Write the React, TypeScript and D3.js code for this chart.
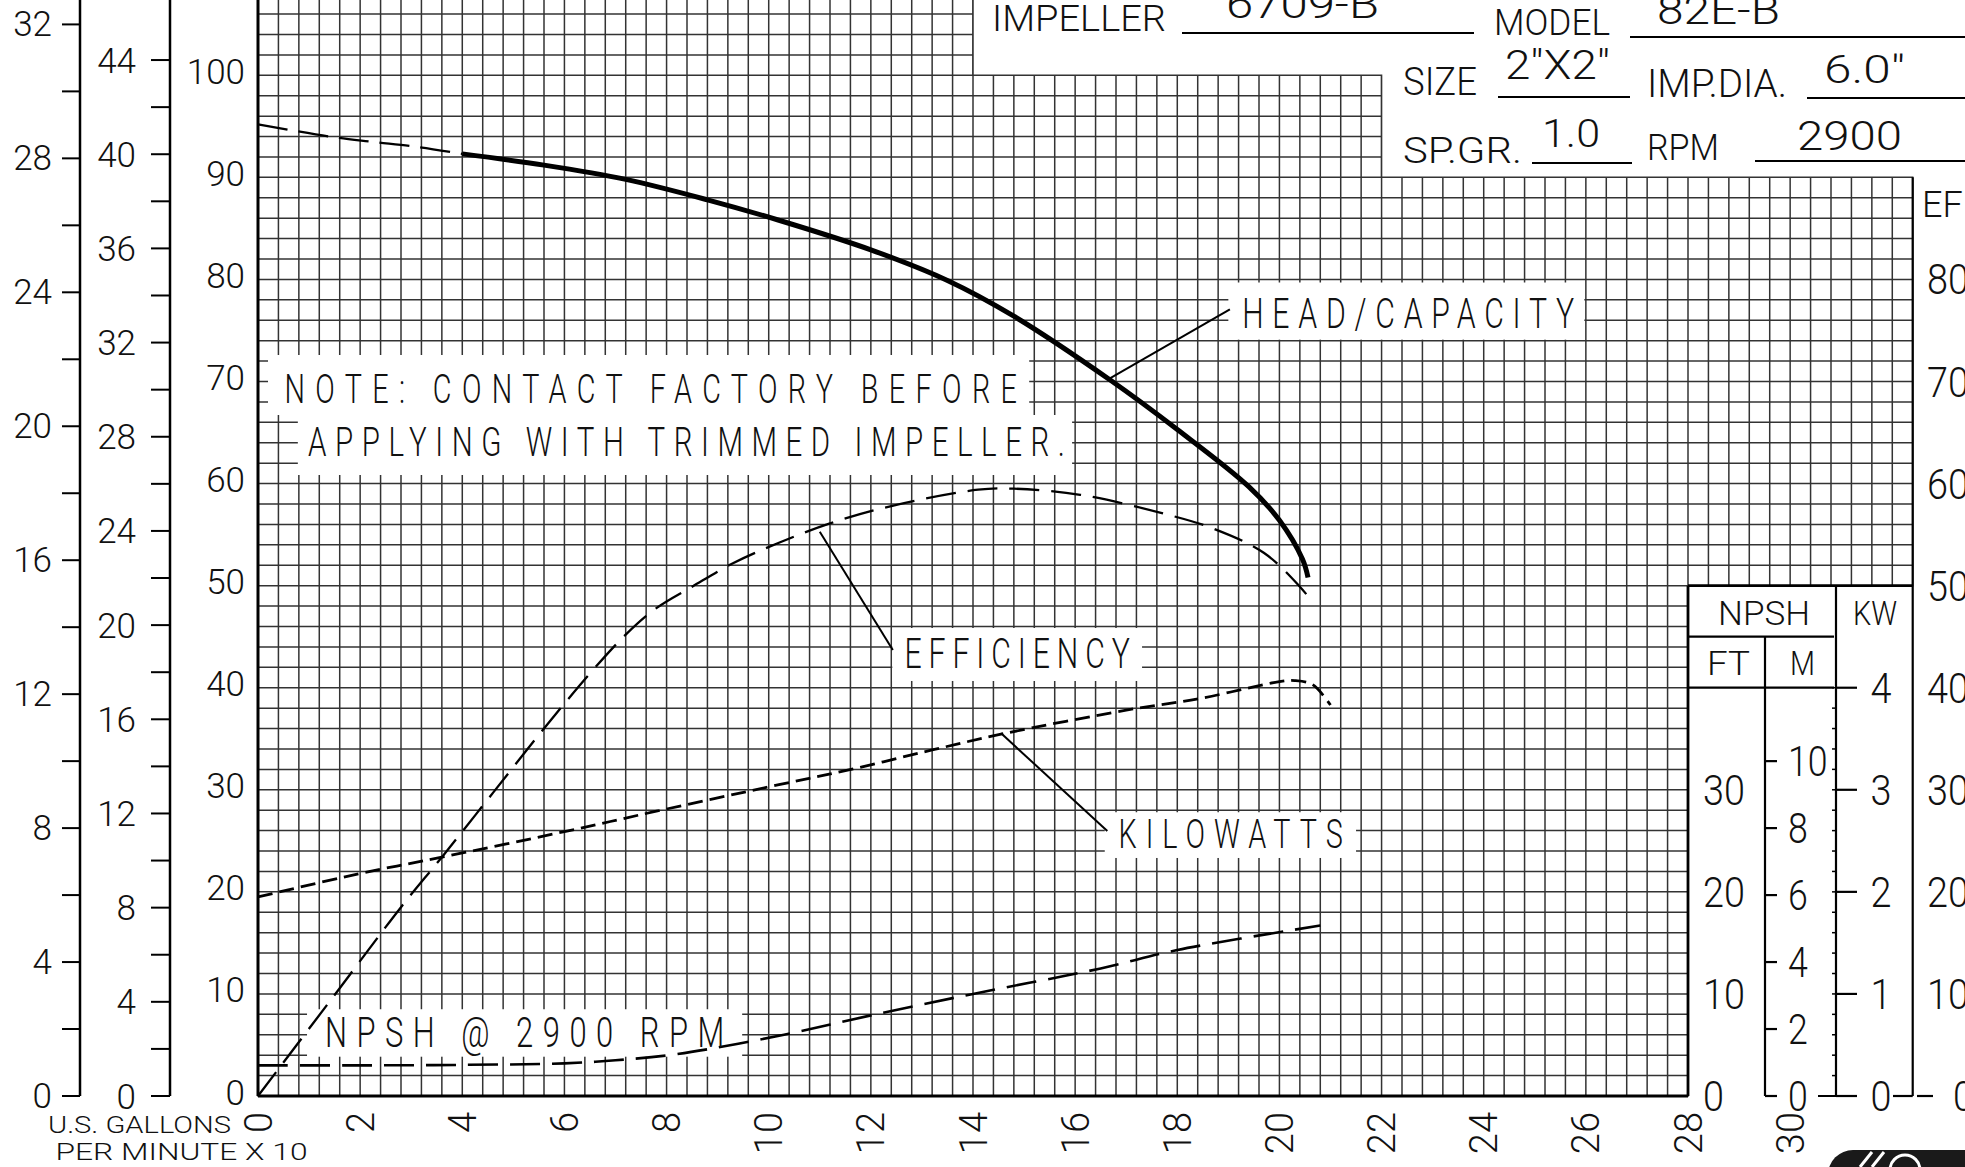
import React from 'react';
import * as d3 from 'd3';

const W = 1965;
const H = 1167;
const FONT = "Roboto, 'DejaVu Sans', sans-serif";
const INK = '#111';

// ---------------- data ----------------
// capacity in U.S. GPM x 10, head in feet
const headDashedQ = [0, 1.4, 2.2, 3.1, 4.0];
const headDashedFt = [95.2, 94.0, 93.5, 93.0, 92.3];
const headQ = [4.0, 5.6, 7.2, 8.8, 10.2, 12.0, 13.5, 14.8, 16.7, 18.0, 19.4, 20.0, 20.45, 20.56];
const headFt = [92.3, 91.2, 89.8, 87.8, 85.8, 82.9, 79.9, 76.4, 70.1, 65.3, 59.7, 56.4, 52.6, 50.8];

const effQ = [0, 1.5, 2.8, 3.6, 4.6, 5.6, 6.5, 7.2, 7.8, 8.5, 9.3, 10.2, 11.2, 12.4, 14.1, 14.8, 16.1, 17.7, 18.7, 19.7, 20.4, 20.6];
const effPct = [0, 9.9, 18.5, 23.4, 29.7, 36.0, 41.4, 45.2, 47.8, 49.9, 52.2, 54.2, 56.1, 57.8, 59.4, 59.5, 58.9, 57.1, 55.6, 53.2, 49.9, 48.7];

const kwQ = [0, 2.0, 3.6, 6.0, 7.8, 10.2, 11.7, 13.2, 14.6, 17.0, 18.5, 20.0, 20.3, 20.65, 21.0];
const kwVal = [1.95, 2.18, 2.34, 2.59, 2.79, 3.05, 3.21, 3.39, 3.55, 3.78, 3.90, 4.06, 4.07, 4.03, 3.83];

const npshQ = [0, 2, 4, 6.0, 7.0, 8.2, 10.3, 12.0, 14.0, 16.5, 18.0, 20.8];
const npshFt = [3.0, 3.0, 3.05, 3.2, 3.5, 4.1, 6.0, 7.9, 10.0, 12.5, 14.3, 16.7];

// tick values
const capacityTicks = d3.range(0, 31, 2);
const headTicks = d3.range(0, 101, 10);
const psiTicks = d3.range(0, 45, 4);
const psiAllTicks = d3.range(0, 45, 2);
const meterTicks = d3.range(0, 33, 4);
const meterAllTicks = d3.range(0, 33, 2);
const npshFtTicks = [0, 10, 20, 30];
const npshMTicks = [0, 2, 4, 6, 8, 10];
const kwTicks = [0, 1, 2, 3, 4];
const kwMinorTicks = d3.range(0, 21).map((i) => i * 0.2);
const effTicks = d3.range(0, 81, 10);

// header text
const headerTexts = ['IMPELLER', '6709-B', 'MODEL', '82E-B', 'SIZE', '2"X2"', 'IMP.DIA.', '6.0"', 'SP.GR.', '1.0', 'RPM', '2900'];

// unit conversions
const FT_PER_PSI = 2.3067;
const FT_PER_M = 3.2808;
const FT_PER_KW = 10;

// ---------------- scales ----------------
const x = d3.scaleLinear().domain([0, 28]).range([258, 1688]);
const yFt = d3.scaleLinear().domain([0, 100]).range([1096, 75.3]);
const yPsi = d3.scaleLinear().domain([0, 44]).range([yFt(0), yFt(44 * FT_PER_PSI)]);
const yM = d3.scaleLinear().domain([0, 32]).range([yFt(0), yFt(32 * FT_PER_M)]);
const yKw = d3.scaleLinear().domain([0, 4]).range([yFt(0), yFt(4 * FT_PER_KW)]);

// ---------------- layout ----------------
const M_AXIS_X = 80;
const PSI_AXIS_X = 170;
const NPSH_DIV_X = 1765;
const KW_AXIS_X = 1836;
const EF_AXIS_X = x(32.4);

const gridOutline: [number, number][] = [
  [0, 107.6], [14, 107.6], [14, 100], [22, 100], [22, 90], [32.4, 90], [32.4, 50], [28, 50], [28, 0], [0, 0],
];
const hGrid = d3.range(0, 54).map((i) => i * 2);
const vGrid = d3.range(0, 82).map((i) => +(i * 0.4).toFixed(1));

type Box = { q0: number; q1: number; v0: number; v1: number };
const labelBoxes: Box[] = [
  { q0: 19.0, q1: 25.97, v0: 74.1, v1: 79.7 },
  { q0: 12.42, q1: 17.31, v0: 40.66, v1: 45.85 },
  { q0: 16.58, q1: 21.5, v0: 23.32, v1: 27.8 },
  { q0: 0.96, q1: 9.48, v0: 3.85, v1: 8.5 },
];
const notePoly: [number, number][] = [
  [0.196, 72.6], [15.1, 72.6], [15.1, 66.72], [15.94, 66.72], [15.94, 60.84], [0.78, 60.84], [0.78, 66.72], [0.196, 66.72],
];

type Ann = { s: string; q0: number; q1: number; v: number; size: number };
const annotations: Ann[] = [
  { s: 'HEAD/CAPACITY', q0: 19.27, q1: 25.77, v: 75.24, size: 42 },
  { s: 'EFFICIENCY', q0: 12.66, q1: 17.07, v: 41.9, size: 42 },
  { s: 'KILOWATTS', q0: 16.85, q1: 21.24, v: 24.27, size: 40 },
  { s: 'NPSH @ 2900 RPM', q0: 1.31, q1: 9.13, v: 4.8, size: 43 },
  { s: 'NOTE: CONTACT FACTORY BEFORE', q0: 0.52, q1: 14.86, v: 67.87, size: 40 },
  { s: 'APPLYING WITH TRIMMED IMPELLER.', q0: 0.98, q1: 15.8, v: 62.7, size: 41 },
];
const leaders: [number, number, number, number][] = [
  [16.68, 70.3, 19.03, 77.07],
  [11.0, 55.29, 12.43, 43.7],
  [14.55, 35.53, 16.63, 25.96],
];

// header layout: x, baseline, width, size for each headerTexts entry
const headerLayout: [number, number, number, number][] = [
  [992, 31, 174, 37], [1226, 18, 153, 40], [1494, 35, 116, 36], [1657, 24, 123, 40],
  [1403, 95, 74, 38], [1505, 79, 105, 40], [1647, 97, 140, 38], [1824, 83, 81, 39],
  [1403, 163, 119, 37], [1542, 147, 58, 38], [1647, 160, 72, 36], [1797, 150, 105, 40],
];
const headerRules: [number, number, number][] = [
  [1182, 1474, 33], [1630, 1965, 37], [1498, 1630, 97], [1807, 1965, 98], [1532, 1632, 163], [1755, 1965, 161],
];

type TP = {
  x: number; y: number; s: string; size: number; w?: number; anchor?: string;
  adjust?: string; condense?: number;
};
function T({ x: tx, y: ty, s, size, w, anchor = 'start', adjust = 'spacingAndGlyphs', condense = 1 }: TP) {
  return (
    <text
      transform={`translate(${tx},${ty}) scale(${condense},1)`}
      fontSize={size}
      textAnchor={anchor}
      fontFamily={FONT}
      fontWeight={300}
      fill={INK}
      textLength={w ? w / condense : undefined}
      lengthAdjust={w ? adjust : undefined}
    >
      {s}
    </text>
  );
}

function curvePath(qs: number[], vs: number[], yScale: (v: number) => number) {
  const pts = qs.map((q, i) => [q, vs[i]] as [number, number]);
  return d3
    .line<[number, number]>()
    .x((d) => x(d[0]))
    .y((d) => yScale(d[1]))
    .curve(d3.curveCatmullRom.alpha(0.5))(pts) as string;
}

export default function App() {
  const outlinePath = 'M' + gridOutline.map(([q, v]) => `${x(q)},${yFt(v)}`).join('L') + 'Z';
  const notePath = 'M' + notePoly.map(([q, v]) => `${x(q)},${yFt(v)}`).join('L') + 'Z';
  const gridStroke = '#333';
  const gridW = 1.5;

  return (
    <svg
      width={W}
      height={H}
      viewBox={`0 0 ${W} ${H}`}
      style={{ position: 'absolute', left: 0, top: 0, background: '#fff', overflow: 'hidden' }}
    >
      <defs>
        <clipPath id="gridClip">
          <path d={outlinePath} />
        </clipPath>
      </defs>
      <rect x={0} y={0} width={W} height={H} fill="#fff" />

      {/* grid */}
      <g clipPath="url(#gridClip)" stroke={gridStroke} strokeWidth={gridW}>
        {hGrid.map((v) => (
          <line key={'h' + v} x1={x(0)} x2={x(32.4)} y1={yFt(v)} y2={yFt(v)} />
        ))}
        {vGrid.map((q) => (
          <line key={'v' + q} x1={x(q)} x2={x(q)} y1={yFt(0)} y2={yFt(107.6)} />
        ))}
      </g>
      <path d={outlinePath} fill="none" stroke={gridStroke} strokeWidth={gridW} />

      {/* white label boxes */}
      {labelBoxes.map((b, i) => (
        <rect key={'b' + i} x={x(b.q0)} y={yFt(b.v1)} width={x(b.q1) - x(b.q0)} height={yFt(b.v0) - yFt(b.v1)} fill="#fff" />
      ))}
      <path d={notePath} fill="#fff" />

      {/* main axes */}
      <line x1={x(0)} x2={x(0)} y1={0} y2={yFt(0)} stroke="#000" strokeWidth={3} />
      <line x1={x(0)} x2={x(28)} y1={yFt(0)} y2={yFt(0)} stroke="#000" strokeWidth={3.2} />

      {/* head feet labels */}
      {headTicks.map((v) => (
        <T key={'ft' + v} x={245} y={yFt(v) + 8.5} s={String(v)} size={35} anchor="end" />
      ))}

      {/* PSI axis */}
      <line x1={PSI_AXIS_X} x2={PSI_AXIS_X} y1={0} y2={yPsi(0)} stroke="#000" strokeWidth={2.5} />
      {psiAllTicks.map((p) => (
        <line key={'pt' + p} x1={PSI_AXIS_X - 19} x2={PSI_AXIS_X} y1={yPsi(p)} y2={yPsi(p)} stroke="#000" strokeWidth={2} />
      ))}
      {psiTicks.map((p) => (
        <T key={'pl' + p} x={136} y={yPsi(p) + 12.5} s={String(p)} size={35} anchor="end" />
      ))}

      {/* meter axis */}
      <line x1={M_AXIS_X} x2={M_AXIS_X} y1={0} y2={yM(0)} stroke="#000" strokeWidth={2.5} />
      {meterAllTicks.map((m) => (
        <line key={'mt' + m} x1={M_AXIS_X - 18} x2={M_AXIS_X} y1={yM(m)} y2={yM(m)} stroke="#000" strokeWidth={2} />
      ))}
      {meterTicks.map((m) => (
        <T key={'ml' + m} x={52} y={yM(m) + 12} s={String(m)} size={35} anchor="end" />
      ))}

      {/* capacity labels (rotated) */}
      {capacityTicks.map((q) => (
        <text
          key={'q' + q}
          transform={`translate(${x(q) + 13.5},1112) rotate(-90)`}
          fontSize={38}
          textAnchor="end"
          fontFamily={FONT}
          fontWeight={300}
          fill={INK}
        >
          {q}
        </text>
      ))}
      <T x={48} y={1133} s="U.S. GALLONS" size={23} w={183} />
      <T x={55.5} y={1160} s="PER MINUTE X 10" size={23} w={252} />

      {/* NPSH / KW / EFF panel */}
      <g stroke="#000" strokeWidth={2.2}>
        <line x1={x(28)} x2={x(28)} y1={yFt(50)} y2={yFt(0)} strokeWidth={2.8} />
        <line x1={x(28)} x2={EF_AXIS_X} y1={yFt(50)} y2={yFt(50)} strokeWidth={2.8} />
        <line x1={KW_AXIS_X} x2={KW_AXIS_X} y1={yFt(50)} y2={yFt(0)} />
        <line x1={EF_AXIS_X} x2={EF_AXIS_X} y1={yFt(90)} y2={yFt(0)} />
        <line x1={x(28)} x2={KW_AXIS_X - 2} y1={yFt(45)} y2={yFt(45)} />
        <line x1={x(28)} x2={KW_AXIS_X - 2} y1={yKw(4)} y2={yKw(4)} />
        <line x1={NPSH_DIV_X} x2={NPSH_DIV_X} y1={yFt(45)} y2={yFt(0)} />
        {npshMTicks.map((m) => (
          <line key={'nm' + m} x1={NPSH_DIV_X} x2={NPSH_DIV_X + 12} y1={yM(m)} y2={yM(m)} />
        ))}
        {kwTicks.map((k) => (
          <line key={'kt' + k} x1={KW_AXIS_X} x2={KW_AXIS_X + 21} y1={yKw(k)} y2={yKw(k)} />
        ))}
        {kwMinorTicks.map((k, i) => (
          <line key={'km' + i} x1={KW_AXIS_X - 4} x2={KW_AXIS_X} y1={yKw(k)} y2={yKw(k)} strokeWidth={1.5} />
        ))}
        <line x1={1818} x2={1857} y1={yFt(0)} y2={yFt(0)} />
        <line x1={1893} x2={EF_AXIS_X} y1={yFt(0)} y2={yFt(0)} />
        <line x1={1917} x2={1933} y1={yFt(0)} y2={yFt(0)} />
      </g>
      <T x={1718} y={625} s="NPSH" size={34} w={92} />
      <T x={1853} y={625} s="KW" size={34} w={44} />
      <T x={1707} y={675} s="FT" size={34} w={43} />
      <T x={1790} y={675} s="M" size={34} w={25} />
      {npshFtTicks.map((v) => (
        <T key={'nf' + v} x={1703} y={yFt(v) + 15} s={String(v)} size={42} condense={0.9} />
      ))}
      {npshMTicks.map((m) => (
        <T key={'nml' + m} x={1788} y={yM(m) + 15} s={String(m)} size={42} condense={0.85} />
      ))}
      {kwTicks.map((k) => (
        <T key={'kl' + k} x={1881} y={yKw(k) + 15} s={String(k)} size={42} anchor="middle" condense={0.9} />
      ))}
      {effTicks.map((e) => (
        <T key={'ef' + e} x={e === 0 ? 1953 : 1927} y={yFt(e) + 15} s={String(e)} size={42} condense={0.9} />
      ))}
      <T x={1922} y={217} s="EF" size={36} />

      {/* header block */}
      {headerTexts.map((s, i) => {
        const [hx, hy, hw, hs] = headerLayout[i];
        return <T key={'hd' + i} x={hx} y={hy} s={s} size={hs} w={hw} />;
      })}
      {headerRules.map(([x1, x2, yy], i) => (
        <line key={'hr' + i} x1={x1} x2={x2} y1={yy} y2={yy} stroke="#000" strokeWidth={2} />
      ))}

      {/* curves */}
      <path d={curvePath(npshQ, npshFt, yFt)} fill="none" stroke="#000" strokeWidth={2.6} strokeDasharray="30 12" />
      <path d={curvePath(kwQ, kwVal, yKw)} fill="none" stroke="#000" strokeWidth={2.8} strokeDasharray="15 7" />
      <path d={curvePath(effQ, effPct, yFt)} fill="none" stroke="#000" strokeWidth={2.3} strokeDasharray="30 12" />
      <path d={curvePath(headDashedQ, headDashedFt, yFt)} fill="none" stroke="#000" strokeWidth={2.3} strokeDasharray="30 11" />
      <path d={curvePath(headQ, headFt, yFt)} fill="none" stroke="#000" strokeWidth={5} />

      {/* leaders and labels */}
      {leaders.map(([q0, v0, q1, v1], i) => (
        <line key={'ld' + i} x1={x(q0)} y1={yFt(v0)} x2={x(q1)} y2={yFt(v1)} stroke="#000" strokeWidth={2} />
      ))}
      {annotations.map((a, i) => (
        <T key={'an' + i} x={x(a.q0)} y={yFt(a.v)} s={a.s} size={a.size} w={x(a.q1) - x(a.q0)} adjust="spacing" condense={0.72} />
      ))}

      {/* logo fragment */}
      <g>
        <rect x={1828} y={1150} width={200} height={50} rx={25} fill="#1a1a1a" />
        <circle cx={1905} cy={1170} r={15} fill="none" stroke="#fff" strokeWidth={3} />
        <line x1={1860} y1={1167} x2={1872} y2={1152} stroke="#fff" strokeWidth={3} />
        <line x1={1872} y1={1167} x2={1884} y2={1152} stroke="#fff" strokeWidth={3} />
      </g>
    </svg>
  );
}
